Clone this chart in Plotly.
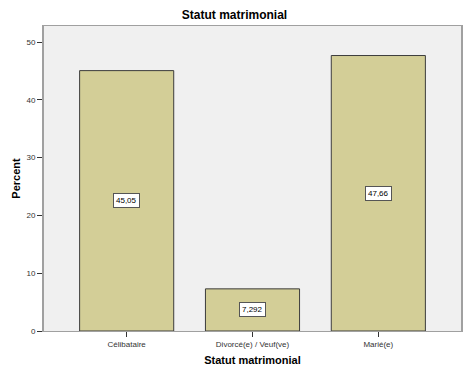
import plotly.graph_objects as go

categories = ["Célibataire", "Divorcé(e) / Veuf(ve)", "Marié(e)"]
percent = [45.05, 7.292, 47.66]
labels = ["45,05", "7,292", "47,66"]
y_ticks = [0, 10, 20, 30, 40, 50]

FONT = "Liberation Sans, Arial, sans-serif"

fig = go.Figure()
fig.add_trace(go.Bar(
    x=categories, y=percent, width=0.748,
    marker=dict(color="#D3CE97", line=dict(color="#3c3c3c", width=1)),
    hoverinfo="skip",
))

for c, v, t in zip(categories, percent, labels):
    fig.add_annotation(
        x=c, y=v / 2, text=t, showarrow=False,
        font=dict(family=FONT, size=8, color="#000"),
        bgcolor="white", bordercolor="#555", borderwidth=1, borderpad=2,
    )

fig.update_layout(
    width=469, height=375,
    margin=dict(l=44, r=6, t=26, b=44),
    paper_bgcolor="white", plot_bgcolor="#F0F0F0",
    showlegend=False,
    title=dict(text="<b>Statut matrimonial</b>", x=0.5, xanchor="center",
               y=1 - 15 / 375, yanchor="middle",
               font=dict(family=FONT, size=12, color="#000")),
    font=dict(family=FONT),
)
fig.update_xaxes(
    range=[-0.657, 2.657], showgrid=False,
    showline=True, linecolor="#a0a0a0", linewidth=1, mirror=True,
    ticks="outside", ticklen=5, tickcolor="#333", tickwidth=1,
    tickfont=dict(family=FONT, size=8, color="#333"),
    title=dict(text="<b>Statut matrimonial</b>", standoff=8,
               font=dict(family=FONT, size=11, color="#000")),
)
fig.update_yaxes(
    range=[0, 52.77], showgrid=False, zeroline=False,
    tickvals=y_ticks, ticktext=[str(v) for v in y_ticks],
    showline=True, linecolor="#a0a0a0", linewidth=2, mirror=True,
    ticks="outside", ticklen=5, tickcolor="#333", tickwidth=1,
    tickfont=dict(family=FONT, size=8, color="#333"),
    title=dict(text="<b>Percent</b>", standoff=4,
               font=dict(family=FONT, size=11, color="#000")),
)

fig.write_html(
    "out.html",
    config={"displayModeBar": False},
    post_script="document.body.style.margin='0';document.body.style.overflow='hidden';",
)
